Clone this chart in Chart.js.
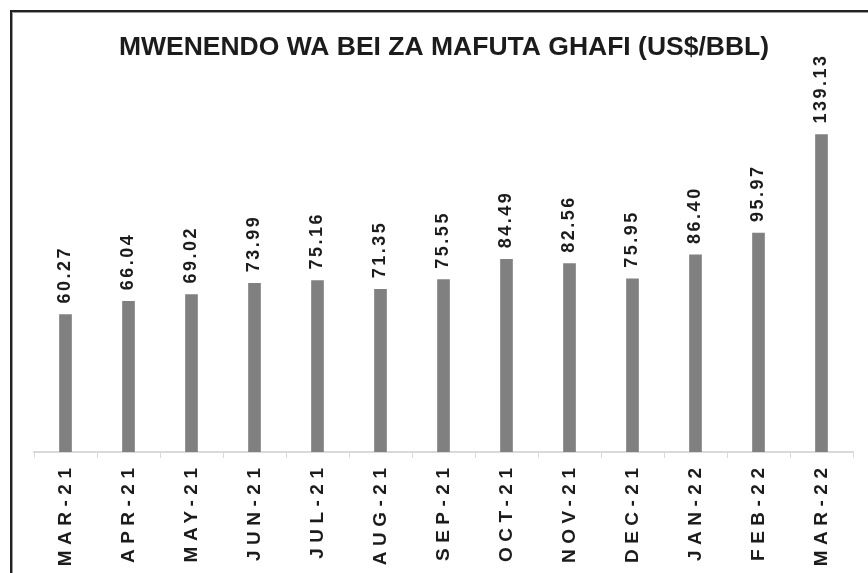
<!DOCTYPE html>
<html>
<head>
<meta charset="utf-8">
<script src="https://cdn.jsdelivr.net/npm/chart.js@4/dist/chart.umd.min.js"></script>
<style>
  html, body { margin: 0; padding: 0; background: #ffffff; }
  #wrap { width: 868px; height: 573px; position: relative; }
</style>
</head>
<body>
<div id="wrap"><canvas id="c" width="868" height="573"></canvas></div>
<script>
const chartTitle = 'MWENENDO WA BEI ZA MAFUTA GHAFI (US$/BBL)';
const categories = ['MAR-21', 'APR-21', 'MAY-21', 'JUN-21', 'JUL-21', 'AUG-21', 'SEP-21', 'OCT-21', 'NOV-21', 'DEC-21', 'JAN-22', 'FEB-22', 'MAR-22'];
const prices = [60.27, 66.04, 69.02, 73.99, 75.16, 71.35, 75.55, 84.49, 82.56, 75.95, 86.40, 95.97, 139.13];
const yMax = 160;

const TEXT = '#1c1c1c';
const FONT = '"Liberation Sans", Arial, sans-serif';

const decorPlugin = {
  id: 'decor',
  afterDraw(chart) {
    const ctx = chart.ctx;
    const xs = chart.scales.x;
    const meta = chart.getDatasetMeta(0);
    ctx.save();
    // frame
    ctx.fillStyle = '#222';
    ctx.fillRect(10, 10, 858, 2);
    ctx.fillRect(10, 10, 2, 563);
    ctx.fillStyle = '#9a9a9a';
    ctx.fillRect(12, 12, 856, 1);
    ctx.fillRect(12, 12, 1, 561);

    // title
    ctx.fillStyle = TEXT;
    ctx.font = 'bold 26.5px ' + FONT;
    ctx.letterSpacing = '0px';
    ctx.textAlign = 'center';
    ctx.textBaseline = 'middle';
    ctx.fillText(chartTitle, 444, 48, 652);

    // value labels
    ctx.font = 'bold 18px ' + FONT;
    ctx.letterSpacing = '2.5px';
    meta.data.forEach((bar, i) => {
      ctx.save();
      ctx.translate(bar.x, bar.y - 11);
      ctx.rotate(-Math.PI / 2);
      ctx.textAlign = 'left';
      ctx.textBaseline = 'middle';
      ctx.fillText(prices[i].toFixed(2), 0, 0);
      ctx.restore();
    });

    // category labels
    ctx.font = 'bold 19px ' + FONT;
    ctx.letterSpacing = '5.5px';
    categories.forEach((cat, i) => {
      const x = xs.getPixelForValue(i);
      ctx.save();
      ctx.translate(x, 468 - 5.5);
      ctx.rotate(-Math.PI / 2);
      ctx.textAlign = 'right';
      ctx.textBaseline = 'middle';
      ctx.fillText(cat, 0, 0);
      ctx.restore();
    });
    ctx.restore();
  }
};

new Chart(document.getElementById('c'), {
  type: 'bar',
  data: {
    labels: categories,
    datasets: [{
      data: prices,
      backgroundColor: '#808080',
      borderWidth: 0,
      barThickness: 12
    }]
  },
  options: {
    responsive: false,
    animation: false,
    layout: { padding: { top: 87, left: 34, right: 15, bottom: 115 } },
    plugins: { legend: { display: false }, title: { display: false }, tooltip: { enabled: false } },
    scales: {
      x: {
        offset: true,
        grid: { offset: true, drawOnChartArea: false, drawTicks: true, tickLength: 6, color: '#d9d9d9', lineWidth: 1 },
        border: { display: true, color: '#d9d9d9', width: 2 },
        ticks: { display: false }
      },
      y: {
        display: false,
        min: 0,
        max: yMax
      }
    }
  },
  plugins: [decorPlugin]
});
</script>
</body>
</html>
